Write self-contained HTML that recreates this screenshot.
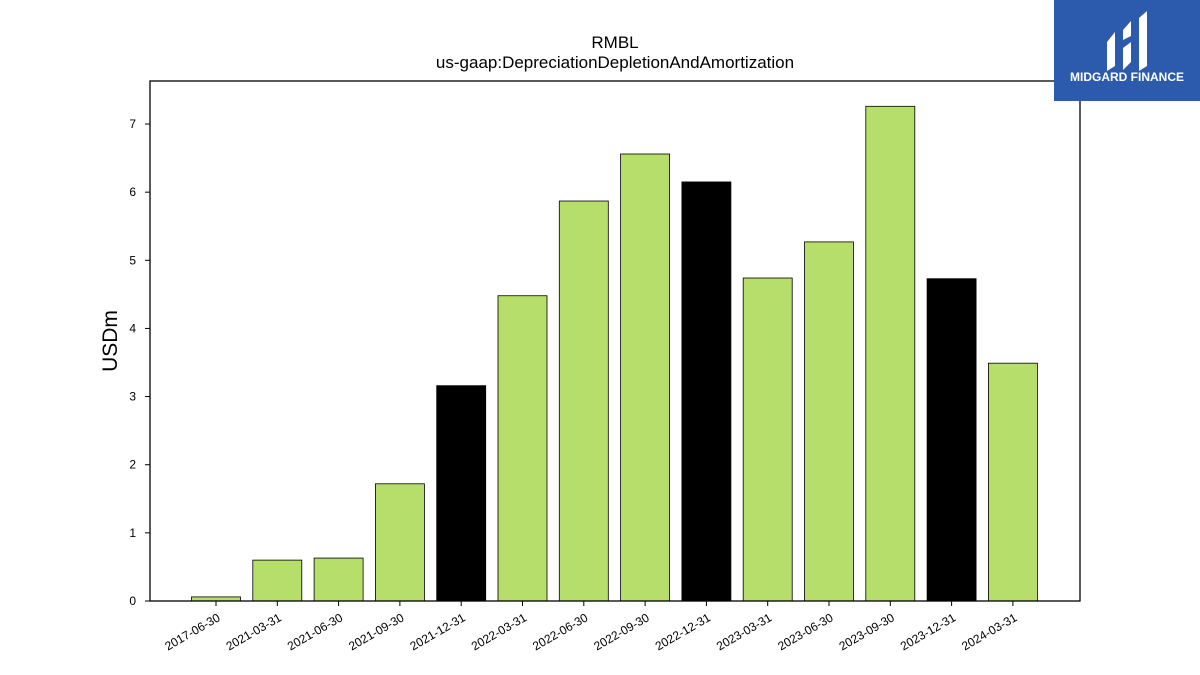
<!DOCTYPE html>
<html><head><meta charset="utf-8"><style>
body{margin:0;background:#fff;width:1200px;height:675px;overflow:hidden;font-family:"Liberation Sans",sans-serif}
</style></head><body>
<svg id="chart" width="1200" height="675" style="position:absolute;left:0;top:0">
<text x="615" y="48" text-anchor="middle" font-size="17">RMBL</text>
<text x="615" y="68" text-anchor="middle" font-size="17">us-gaap:DepreciationDepletionAndAmortization</text>
<text transform="translate(117,341) rotate(-90)" text-anchor="middle" font-size="21">USDm</text>
<g id="bars"></g><g id="yticks"></g><g id="xticks"></g>
<rect x="150" y="81" width="930" height="520" fill="none" stroke="#000" stroke-width="1.3"/>
<g>
<rect x="1054" y="0" width="146" height="101" fill="#2c5aad"/>
<path d="M1107 42 L1115 32 L1115 66 L1107 71 Z" fill="#fff"/>
<path d="M1123 30 L1131 21 L1131 36 L1123 40 Z M1123 48 L1131 42 L1131 62 L1123 70 Z" fill="#fff"/>
<path d="M1139 18 L1147 11 L1147 66 L1139 71 Z" fill="#fff"/>
<text x="1127" y="81" text-anchor="middle" font-size="12" font-weight="bold" fill="#fff">MIDGARD FINANCE</text>
</g>
</svg>
<script>
const categories=["2017-06-30","2021-03-31","2021-06-30","2021-09-30","2021-12-31","2022-03-31","2022-06-30","2022-09-30","2022-12-31","2023-03-31","2023-06-30","2023-09-30","2023-12-31","2024-03-31"];
const values=[0.06,0.6,0.63,1.72,3.16,4.48,5.87,6.56,6.15,4.74,5.27,7.26,4.73,3.49];
const annual=[false,false,false,false,true,false,false,false,true,false,false,false,true,false];
const yTicks=[0,1,2,3,4,5,6,7];
const NS="http://www.w3.org/2000/svg";
const y=v=>601-v*68.14;
const x=i=>216+i*61.3;
const bars=document.getElementById('bars'),yt=document.getElementById('yticks'),xt=document.getElementById('xticks');
values.forEach((v,i)=>{
const r=document.createElementNS(NS,'rect');
r.setAttribute('x',x(i)-24.5);r.setAttribute('y',y(v));r.setAttribute('width',49);r.setAttribute('height',601-y(v));
r.setAttribute('fill',annual[i]?'#000':'#b5de6b');r.setAttribute('stroke','#000');r.setAttribute('stroke-width','0.8');


bars.appendChild(r);
const l=document.createElementNS(NS,'line');
l.setAttribute('x1',x(i));l.setAttribute('x2',x(i));l.setAttribute('y1',601);l.setAttribute('y2',606);l.setAttribute('stroke','#000');


xt.appendChild(l);
const t=document.createElementNS(NS,'text');
t.setAttribute('transform',`translate(${x(i)+5},${620}) rotate(-30)`);t.setAttribute('text-anchor','end');t.setAttribute('font-size','12');
t.textContent=categories[i];


xt.appendChild(t);
});
yTicks.forEach(v=>{
const l=document.createElementNS(NS,'line');
l.setAttribute('x1',145);l.setAttribute('x2',150);l.setAttribute('y1',y(v));l.setAttribute('y2',y(v));l.setAttribute('stroke','#000');


yt.appendChild(l);
const t=document.createElementNS(NS,'text');
t.setAttribute('x',136);t.setAttribute('y',y(v)+4);t.setAttribute('text-anchor','end');t.setAttribute('font-size','12');
t.textContent=v;


yt.appendChild(t);
});
</script>
</body></html>
